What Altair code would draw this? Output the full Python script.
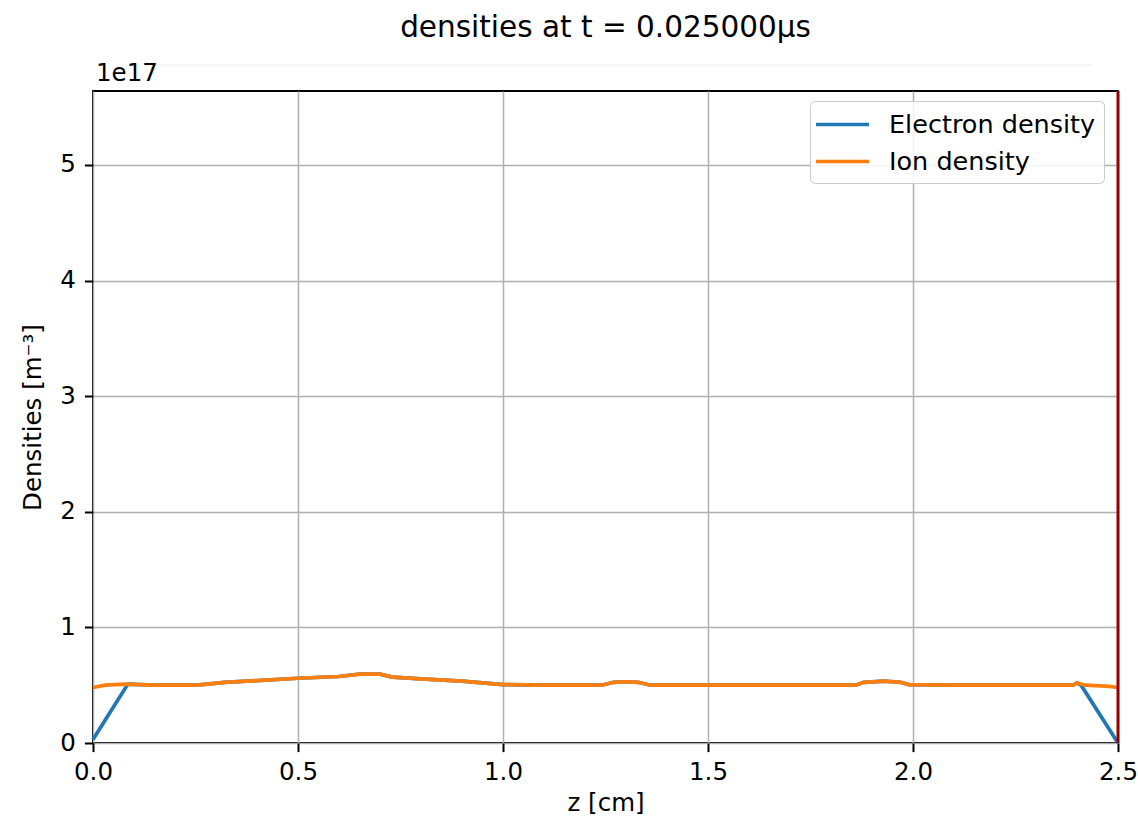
import altair as alt
import pandas as pd

# values in units of 1e17 m^-3
ion_z = [0.0, 0.03, 0.08, 0.15, 0.25, 0.28, 0.32, 0.40, 0.50, 0.60, 0.65, 0.70, 0.73, 0.80, 0.90,
         1.00, 1.10, 1.24, 1.27, 1.30, 1.33, 1.36, 1.50, 1.86, 1.88, 1.93, 1.97, 1.99, 2.10,
         2.39, 2.40, 2.42, 2.48, 2.50]
ion_n = [0.48, 0.50, 0.51, 0.50, 0.50, 0.51, 0.525, 0.54, 0.56, 0.575, 0.595, 0.595, 0.57, 0.555, 0.535,
         0.505, 0.50, 0.50, 0.525, 0.53, 0.525, 0.50, 0.50, 0.50, 0.525, 0.535, 0.525, 0.505, 0.50,
         0.50, 0.52, 0.50, 0.49, 0.48]

ele_z = [0.0, 0.085, 0.15, 0.25, 0.28, 0.32, 0.40, 0.50, 0.60, 0.65, 0.70, 0.73, 0.80, 0.90,
         1.00, 1.10, 1.24, 1.27, 1.30, 1.33, 1.36, 1.50, 1.86, 1.88, 1.93, 1.97, 1.99, 2.10,
         2.39, 2.40, 2.41, 2.50]
ele_n = [0.03, 0.51, 0.50, 0.50, 0.51, 0.525, 0.54, 0.56, 0.575, 0.595, 0.595, 0.57, 0.555, 0.535,
         0.505, 0.50, 0.50, 0.525, 0.53, 0.525, 0.50, 0.50, 0.50, 0.525, 0.535, 0.525, 0.505, 0.50,
         0.50, 0.52, 0.50, 0.0]

series_names = ["Electron density", "Ion density"]
series_colors = ["#1f77b4", "#ff7f0e"]
x_ticks = [0.0, 0.5, 1.0, 1.5, 2.0, 2.5]
y_ticks = [0, 1e17, 2e17, 3e17, 4e17, 5e17]
wall_z = [2.5]

FONT = "DejaVu Sans"

ele_df = pd.DataFrame({"z": ele_z, "n": [v * 1e17 for v in ele_n], "series": series_names[0]})
ion_df = pd.DataFrame({"z": ion_z, "n": [v * 1e17 for v in ion_n], "series": series_names[1]})

xscale = alt.Scale(domain=[0, 2.5], nice=False, zero=False)
yscale = alt.Scale(domain=[0, 5.64e17], nice=False)
color = alt.Color(
    "series:N",
    scale=alt.Scale(domain=series_names, range=series_colors),
    legend=alt.Legend(
        title=None, orient="none", legendX=717, legendY=10,
        symbolType="M-2,0H2", symbolSize=702, symbolStrokeWidth=3.7, symbolOffset=9,
        labelFontSize=25.5, labelFont=FONT, labelColor="black", labelOffset=31, labelLimit=500,
        padding=8, rowPadding=8, strokeColor="#cccccc", cornerRadius=5,
        fillColor="rgba(255,255,255,0.85)",
    ),
)

xenc = alt.X("z:Q", scale=xscale, title="z [cm]",
             axis=alt.Axis(values=x_ticks, format=".1f", labelPadding=9, titlePadding=7,
                           labelFlush=False))
yenc = alt.Y("n:Q", scale=yscale, title="Densities [m⁻³]",
             axis=alt.Axis(values=y_ticks, labelExpr="format(datum.value / 1e17, 'd')",
                           labelPadding=9, titlePadding=14, labelFlush=False))

ele = alt.Chart(ele_df).mark_line(strokeWidth=3.7).encode(x=xenc, y=yenc, color=color)
ion = alt.Chart(ion_df).mark_line(strokeWidth=3.7).encode(x=xenc, y=yenc, color=color)

wall = alt.Chart(pd.DataFrame({"z": wall_z})).mark_rule(color="#990000", strokeWidth=3).encode(
    x=alt.X("z:Q", scale=xscale))

offset_txt = alt.Chart(pd.DataFrame({"t": ["1e17"]})).mark_text(
    align="left", baseline="alphabetic", fontSize=24.5, font=FONT, color="black"
).encode(text="t:N", x=alt.value(3), y=alt.value(-10))

faint = alt.Chart(pd.DataFrame({"a": [0]})).mark_rule(color="#f3f3f3", strokeWidth=1.5).encode(
    x=alt.value(57), x2=alt.value(1000), y=alt.value(-26))

chart = alt.layer(faint, ele, ion, wall, offset_txt).properties(
    width=1025, height=652,
    padding={"left": 93, "top": 91, "right": 20, "bottom": 79},
    autosize=alt.AutoSizeParams(type="none"),
    background="white",
    title=alt.TitleParams("densities at t = 0.025000μs", fontSize=29.5, font=FONT,
                          fontWeight="normal", color="black", anchor="middle", offset=18),
).configure_view(stroke="black", strokeWidth=2).configure_axis(
    grid=True, gridColor="#b0b0b0", gridWidth=1.5, domain=False,
    tickColor="black", tickWidth=2, tickSize=8.6,
    labelFont=FONT, labelFontSize=24.5, labelColor="black",
    titleFont=FONT, titleFontSize=24.5, titleFontWeight="normal", titleColor="black",
)

chart.save("out.html", embed_options={"renderer": "svg", "actions": False})
